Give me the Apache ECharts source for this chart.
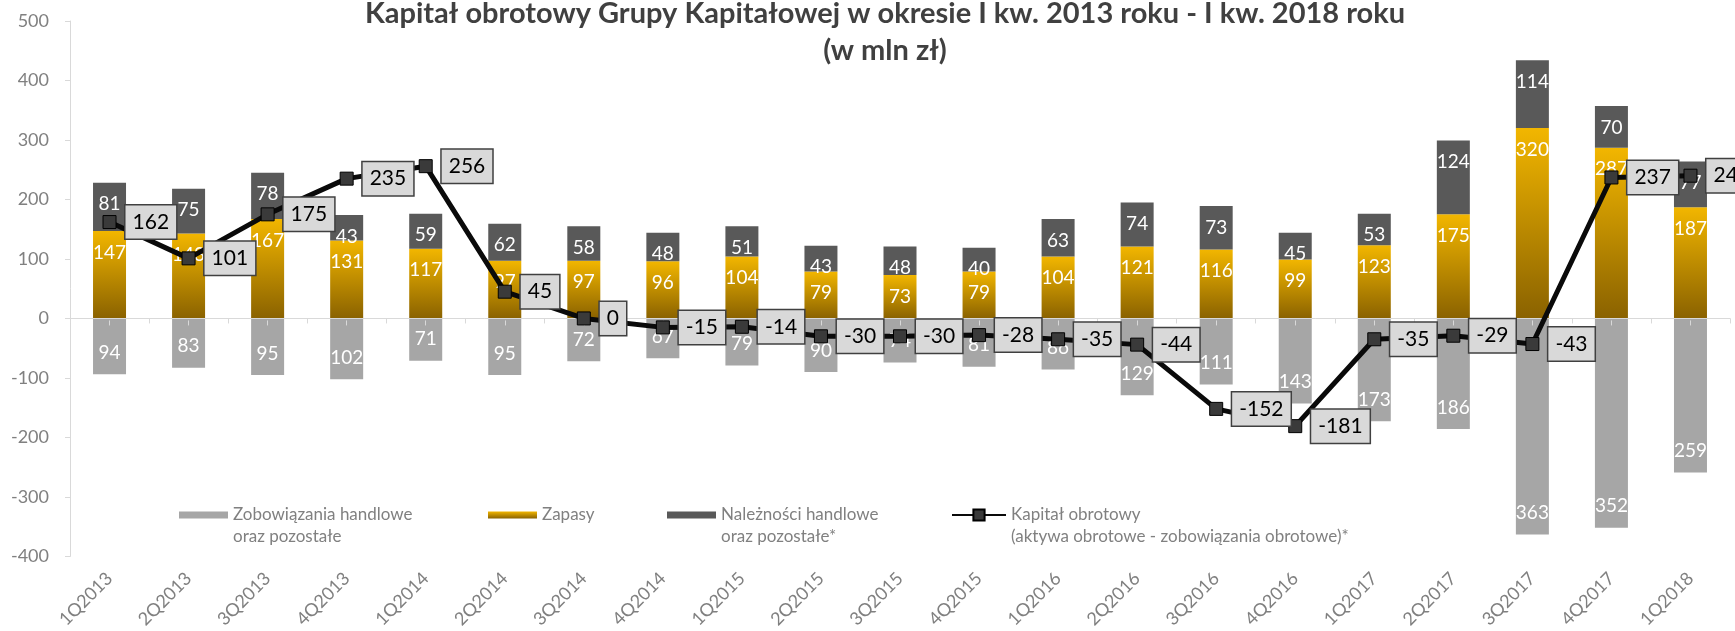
<!DOCTYPE html>
<html><head><meta charset="utf-8">
<script src="https://cdn.jsdelivr.net/npm/echarts@6/dist/echarts.min.js"></script>
<style>html,body{margin:0;padding:0;background:#fff}#c{width:1735px;height:631px}</style>
</head><body><div id="c"></div>
<script>
const categories = ['1Q2013','2Q2013','3Q2013','4Q2013','1Q2014','2Q2014','3Q2014','4Q2014','1Q2015','2Q2015','3Q2015','4Q2015','1Q2016','2Q2016','3Q2016','4Q2016','1Q2017','2Q2017','3Q2017','4Q2017','1Q2018'];
const zobowiazania = [94, 83, 95, 102, 71, 95, 72, 67, 79, 90, 74, 81, 86, 129, 111, 143, 173, 186, 363, 352, 259];
const zapasy = [147, 143, 167, 131, 117, 97, 97, 96, 104, 79, 73, 79, 104, 121, 116, 99, 123, 175, 320, 287, 187];
const naleznosci = [81, 75, 78, 43, 59, 62, 58, 48, 51, 43, 48, 40, 63, 74, 73, 45, 53, 124, 114, 70, 77];
const kapital = [162, 101, 175, 235, 256, 45, 0, -15, -14, -30, -30, -28, -35, -44, -152, -181, -35, -29, -43, 237, 240];
const yMin = -400, yMax = 500, yStep = 100;

const FONT = 'Lato';
const TITLE = 'Kapitał obrotowy Grupy Kapitałowej w okresie I kw. 2013 roku - I kw. 2018 roku\n(w mln zł)';
const N_ZOB = 'Zobowiązania handlowe oraz pozostałe';
const N_ZAP = 'Zapasy';
const N_NAL = 'Należności handlowe oraz pozostałe*';
const N_KAP = 'Kapitał obrotowy (aktywa obrotowe - zobowiązania obrotowe)*';
const legendText = {};
legendText[N_ZOB] = 'Zobowiązania handlowe\noraz pozostałe';
legendText[N_ZAP] = 'Zapasy';
legendText[N_NAL] = 'Należności handlowe\noraz pozostałe*';
legendText[N_KAP] = 'Kapitał obrotowy\n(aktywa obrotowe - zobowiązania obrotowe)*';

function legendAt(name, left, top, twoLine, extra) {
  return Object.assign({
    data: [name], left: left, top: top, padding: 0, selectedMode: false,
    itemWidth: 49, itemHeight: 7, icon: 'rect',
    formatter: n => (twoLine ? '\n' : '') + legendText[n],
    textStyle: { fontFamily: FONT, fontSize: 17, color: '#808080', lineHeight: 22 }
  }, extra || {});
}

const barLabel = (pos) => ({
  show: true, position: pos, distance: 12, color: '#ffffff',
  fontFamily: FONT, fontSize: 19, formatter: p => Math.abs(p.value)
});

const chart = echarts.init(document.getElementById('c'));
chart.setOption({
  animation: false,
  backgroundColor: '#ffffff',
  graphic: [{
    type: 'text', x: 885, y: -5, z: 10,
    style: { text: TITLE, align: 'center', verticalAlign: 'top',
      fontFamily: FONT, fontWeight: 'bold', fontSize: 29, lineHeight: 37, fill: '#404040' }
  }],
  legend: [
    legendAt(N_ZOB, 179, 482, true),
    legendAt(N_ZAP, 488, 504, false),
    legendAt(N_NAL, 667, 482, true),
    legendAt(N_KAP, 951, 482, true, { itemWidth: 54, itemHeight: 14, icon: null })
  ],
  grid: [
    { left: 70, right: 5, top: 21, bottom: 71, containLabel: false },
    { left: 70, right: 5, top: 21, bottom: 71, containLabel: false }
  ],
  xAxis: [
    { type: 'category', gridIndex: 0, data: categories, position: 'bottom',
      axisLine: { show: false, onZero: false }, axisTick: { show: false },
      axisLabel: { interval: 0, rotate: 45, margin: 19, color: '#808080', fontFamily: FONT, fontSize: 18 } },
    { type: 'category', gridIndex: 0, data: categories, position: 'top', z: 3,
      axisLine: { show: true, onZero: true, lineStyle: { color: '#d9d9d9', width: 1 } },
      axisTick: { show: true, inside: true, length: 5, lineStyle: { color: '#d9d9d9' } },
      axisLabel: { show: false } },
    { type: 'category', gridIndex: 1, data: categories, position: 'top', z: 3,
      axisLine: { show: false, onZero: true },
      axisTick: { show: true, inside: true, alignWithLabel: true, length: 5, lineStyle: { color: '#d9d9d9' } },
      axisLabel: { show: false } }
  ],
  yAxis: [
    { type: 'value', gridIndex: 0, min: yMin, max: yMax, interval: yStep,
      axisLine: { show: true, lineStyle: { color: '#d9d9d9' } },
      axisTick: { show: true, length: 5, lineStyle: { color: '#d9d9d9' } },
      splitLine: { show: false },
      axisLabel: { margin: 21, color: '#808080', fontFamily: FONT, fontSize: 18 } },
    { type: 'value', gridIndex: 1, min: yMin, max: yMax, interval: yStep, show: false }
  ],
  series: [
    { name: N_ZOB, type: 'bar', stack: 's', barWidth: 33, xAxisIndex: 0, yAxisIndex: 0,
      data: zobowiazania.map(v => -v),
      itemStyle: { color: '#a6a6a6' }, label: barLabel('insideBottom') },
    { name: N_ZAP, type: 'bar', stack: 's', barWidth: 33, xAxisIndex: 0, yAxisIndex: 0,
      data: zapasy,
      itemStyle: { color: { type: 'linear', x: 0, y: 0, x2: 0, y2: 1,
        colorStops: [{ offset: 0, color: '#f2b600' }, { offset: 1, color: '#8a6200' }] } },
      label: barLabel('insideTop') },
    { name: N_NAL, type: 'bar', stack: 's', barWidth: 33, xAxisIndex: 0, yAxisIndex: 0,
      data: naleznosci,
      itemStyle: { color: '#595959' }, label: barLabel('insideTop') },
    { name: N_KAP, type: 'line', xAxisIndex: 0, yAxisIndex: 0, z: 5,
      data: kapital, symbol: 'rect', symbolSize: 13,
      lineStyle: { color: '#0a0a0a', width: 5 },
      itemStyle: { color: '#3a3a3a', borderColor: '#000000', borderWidth: 1 },
      label: { show: true, position: 'right', distance: 9, color: '#000000',
        fontFamily: FONT, fontSize: 21, lineHeight: 24,
        backgroundColor: '#d9d9d9', borderColor: '#404040', borderWidth: 1.5,
        padding: [5, 7, 4, 7] } }
  ]
});
</script>
</body></html>
